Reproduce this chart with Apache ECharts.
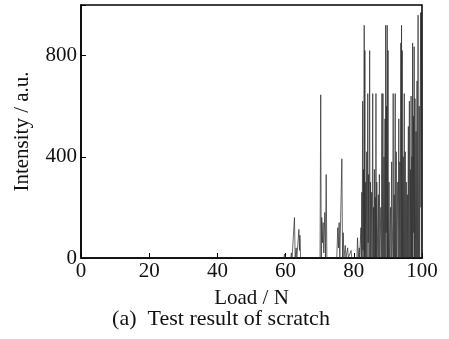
<!DOCTYPE html>
<html><head><meta charset="utf-8">
<script src="https://cdn.jsdelivr.net/npm/echarts@6/dist/echarts.min.js"></script>
<style>html,body{margin:0;padding:0;background:#fff}#c{width:449px;height:339px}</style>
</head><body><div id="c"></div>
<script>
const xTicks = [0, 20, 40, 60, 80, 100];
const yTicks = [0, 400, 800];
const loads = [0, 59.5, 59.7, 59.9, 61.5, 61.7, 61.9, 62.4, 62.6, 62.8, 63.1, 63.3, 63.7, 63.9, 64.1, 64.2, 64.4,
  70.1, 70.3, 70.45, 70.6, 70.8, 71.0, 71.2, 71.5, 71.7, 71.9, 72.1,
  75.0, 75.3, 75.5, 75.7, 75.9, 76.3, 76.5, 76.7, 76.9, 77.1, 77.5, 77.7, 78.2, 78.4, 79.2, 79.4, 80.9, 81.1, 81.3,
  81.5, 81.6, 81.7, 82.0, 82.1, 82.2, 82.35, 82.45, 82.6, 82.7, 82.85, 82.95, 83.05, 83.12, 83.25, 83.35, 83.5, 83.6,
  83.8, 83.9, 84.1, 84.2, 84.35, 84.45, 84.65, 84.75, 84.9, 85.0, 85.25, 85.35, 85.55, 85.65, 85.8, 85.9, 86.05, 86.15,
  86.3, 86.4, 86.5, 86.6, 86.75, 86.85, 87.2, 87.3, 87.5, 87.6, 87.95, 88.05, 88.25, 88.35, 88.55, 88.65, 88.85, 88.95,
  89.15, 89.25, 89.35, 89.45, 89.6, 89.7, 89.8, 89.9, 90.05, 90.15, 90.35, 90.45, 90.8, 90.9, 91.1, 91.2, 91.45, 91.55,
  91.65, 91.85, 91.95, 92.15, 92.25, 92.45, 92.55, 92.9, 93.0, 93.2, 93.3, 93.5, 93.6, 93.8, 93.9, 94.0, 94.1, 94.2,
  94.3, 94.5, 94.6, 94.8, 94.9, 95.1, 95.2, 95.4, 95.5, 95.7, 95.8, 96.0, 96.1, 96.3, 96.4, 96.6, 96.7, 96.8, 96.9,
  97.05, 97.15, 97.25, 97.35, 97.5, 97.6, 97.7, 97.8, 97.95, 98.05, 98.25, 98.35, 98.55, 98.65, 98.85, 98.95, 99.2,
  99.3, 99.6, 99.7, 99.85, 99.95];
const intensity = [0, 0, 16, 0, 0, 20, 0, 0, 160, 0, 40, 0, 0, 113, 30, 90, 0,
  0, 645, 0, 160, 60, 140, 20, 180, 0, 330, 0,
  0, 120, 40, 140, 0, 0, 392, 0, 100, 0, 50, 0, 40, 0, 30, 0, 0, 80, 0,
  0, 40, 0, 0, 120, 0, 260, 0, 620, 30, 350, 0, 920, 0, 820, 0, 300, 0,
  420, 0, 650, 60, 330, 0, 820, 0, 300, 0, 260, 0, 650, 0, 200, 0, 350, 0,
  240, 0, 650, 0, 300, 0, 250, 0, 330, 0, 200, 0, 650, 0, 650, 0, 400, 0,
  550, 0, 920, 100, 600, 0, 920, 0, 820, 0, 300, 0, 200, 0, 380, 0, 150, 650,
  0, 250, 0, 650, 0, 420, 0, 300, 0, 550, 0, 380, 0, 850, 0, 920, 0, 820,
  0, 400, 0, 650, 0, 420, 0, 300, 0, 250, 0, 520, 0, 620, 0, 350, 0, 640, 0,
  400, 0, 850, 0, 560, 100, 835, 0, 630, 0, 500, 0, 700, 0, 960, 0, 600,
  0, 970, 200, 970, 0];
const xName = 'Load / N';
const yName = 'Intensity / a.u.';
const caption = '(a)  Test result of scratch';

const font = 'Liberation Serif';
const chart = echarts.init(document.getElementById('c'), null, {renderer: 'canvas'});
chart.setOption({
  animation: false,
  grid: {left: 81, right: 27, top: 5, bottom: 81, show: true, borderColor: '#000', borderWidth: 1.5},
  xAxis: {
    type: 'value', min: 0, max: 100, interval: 20,
    name: xName, nameLocation: 'middle', nameGap: 30,
    nameTextStyle: {fontFamily: font, fontSize: 21, color: '#111'},
    axisLine: {lineStyle: {color: '#000', width: 1.5}},
    axisTick: {inside: true, length: 5, lineStyle: {color: '#000'}},
    axisLabel: {fontFamily: font, fontSize: 21, color: '#111', margin: 3},
    splitLine: {show: false}
  },
  yAxis: {
    type: 'value', min: 0, max: 1000, interval: 400,
    name: yName, nameLocation: 'middle', nameGap: 48,
    nameTextStyle: {fontFamily: font, fontSize: 21, color: '#111'},
    axisLine: {show: true, lineStyle: {color: '#000', width: 1.5}},
    axisTick: {show: true, inside: true, length: 5, lineStyle: {color: '#000'}},
    axisLabel: {fontFamily: font, fontSize: 21, color: '#111', margin: 4,
      formatter: v => yTicks.includes(v) ? String(v) : ''},
    splitLine: {show: false}
  },
  graphic: [{
    type: 'text', x: 221, y: 308,
    style: {text: caption, fontFamily: font, fontSize: 22, fill: '#111', textAlign: 'center'}
  }],
  series: [{
    type: 'line', symbol: 'none',
    data: loads.map((x, i) => [x, intensity[i]]),
    lineStyle: {color: '#2a2a2a', width: 0.7}
  }]
});
</script></body></html>
